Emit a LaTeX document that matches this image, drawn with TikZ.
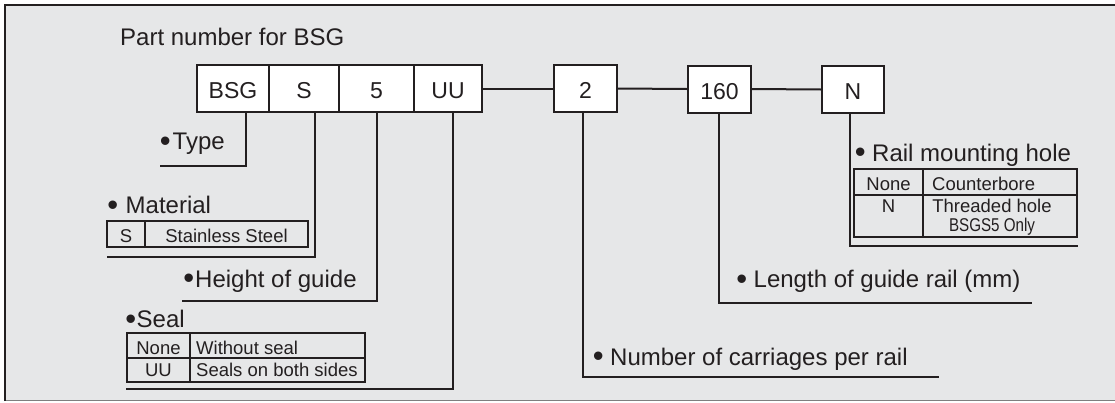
\documentclass[tikz,border=0pt]{standalone}
\usepackage{fontspec}
\setmainfont{Liberation Sans}
\usepackage{graphicx}
\definecolor{bg}{HTML}{E6E7E8}
\definecolor{ink}{HTML}{231F20}
\definecolor{rulegray}{HTML}{7F7F7F}
\newcommand\bul[1]{\makebox[#1pt][l]{\hspace*{-2.3pt}\fontsize{31}{31}\selectfont\raisebox{-1.6pt}{•}}}
\begin{document}
\begin{tikzpicture}[x=1pt,y=-1pt,
  ln/.style={draw=ink, line width=2pt},
  pbox/.style={draw=ink, line width=2pt, fill=white, inner sep=0pt, minimum height=47pt, text height=20pt, text depth=0pt, font=\fontsize{23}{23}\selectfont, text=ink},
  lbl/.style={anchor=base west, inner sep=0pt, font=\fontsize{24}{24}\selectfont, text=ink},
  tt/.style={inner sep=0pt, font=\fontsize{18.5}{18.5}\selectfont, text=ink, anchor=base},
  ttl/.style={tt, anchor=base west},
  tbl/.style={draw=ink, line width=1.8pt}
]
\useasboundingbox (0,0) rectangle (1115,402);
\fill[white] (0,0) rectangle (1115,402);
\fill[bg] (5,5) rectangle (1115,400);
\draw[rulegray, line width=1.5pt] (5,400.5) -- (1115,400.5);
\draw[ink, line width=2pt] (5,401) -- (5,5) -- (1115,5);

% part number boxes
\node[pbox, minimum width=72pt] (bsg) at (233,88.5) {BSG};
\node[pbox, minimum width=70pt] (s) at (304,88.5) {S};
\node[pbox, minimum width=75pt] (five) at (376.5,88.5) {5};
\node[pbox, minimum width=68pt] (uu) at (448,88.5) {UU};
\node[pbox, minimum width=63pt] (two) at (585.5,88.5) {2};
\node[pbox, minimum width=63pt] (len) at (719.5,89) {160};
\node[pbox, minimum width=62pt] (n) at (853,89.5) {N};

\draw[ln] (uu.east) -- (two.west);
\draw[ln] (two.east) -- (len.west);
\draw[ln] (len.east) -- (n.west);

% leader ends
\coordinate (eType) at (160,166);
\coordinate (eMat) at (107,257);
\coordinate (eH) at (182,301);
\coordinate (eSeal) at (126,389);
\coordinate (eNum) at (939,377);
\coordinate (eLen) at (1032,303);
\coordinate (eRail) at (1078,246);

\draw[ln] ([xshift=13pt]bsg.south) |- (eType);
\draw[ln] ([xshift=11pt]s.south) |- (eMat);
\draw[ln] ([xshift=0.5pt]five.south) |- (eH);
\draw[ln] ([xshift=5pt]uu.south) |- (eSeal);
\draw[ln] ([xshift=-2.5pt]two.south) |- (eNum);
\draw[ln] ([xshift=-0.5pt]len.south) |- (eLen);
\draw[ln] ([xshift=-3pt]n.south) |- (eRail);

% labels
\node[lbl] (title) at (120,45) {Part number for BSG};
\node[lbl] (lType) at (162,149.5) {\bul{10.5}Type};
\node[lbl] (lMat) at (109.5,213.5) {\bul{16}Material};
\node[lbl] (lH) at (185.5,287) {\bul{9.5}Height of guide};
\node[lbl] (lSeal) at (127.5,327.5) {\bul{9}Seal};
\node[lbl] (lNum) at (595,365) {\bul{15}Number of carriages per rail};
\node[lbl] (lLen) at (738.5,287.5) {\bul{15}Length of guide rail (mm)};
\node[lbl] (lRail) at (857,161) {\bul{15}Rail mounting hole};

% material table
\draw[tbl] (107,221) rectangle (308,247);
\draw[tbl] (145,221) -- (145,247);
\node[tt] (mS) at (126,242) {S};
\node[tt] (mSS) at (226.5,242) {Stainless Steel};

% seal table
\draw[tbl] (127,333) rectangle (365,382);
\draw[tbl] (127,358) -- (365,358);
\draw[tbl] (190,333) -- (190,382);
\node[tt] (sN) at (158.5,354) {None};
\node[ttl] (sNd) at (196,354) {Without seal};
\node[tt] (sU) at (158.5,376.5) {UU};
\node[ttl] (sUd) at (196,376.5) {Seals on both sides};

% rail mounting hole table
\draw[tbl] (854,169) rectangle (1077,237);
\draw[tbl] (854,195) -- (1077,195);
\draw[tbl] (923,169) -- (923,237);
\node[tt] (rN) at (888.5,190.5) {None};
\node[ttl] (rNd) at (932,190.5) {Counterbore};
\node[tt] (rT) at (888.5,212) {N};
\node[tt] (rTd) at (992,212) {Threaded hole};
\node[tt] (rTo) at (992,231) {\scalebox{0.82}[1]{BSGS5 Only}};
\end{tikzpicture}
\end{document}
